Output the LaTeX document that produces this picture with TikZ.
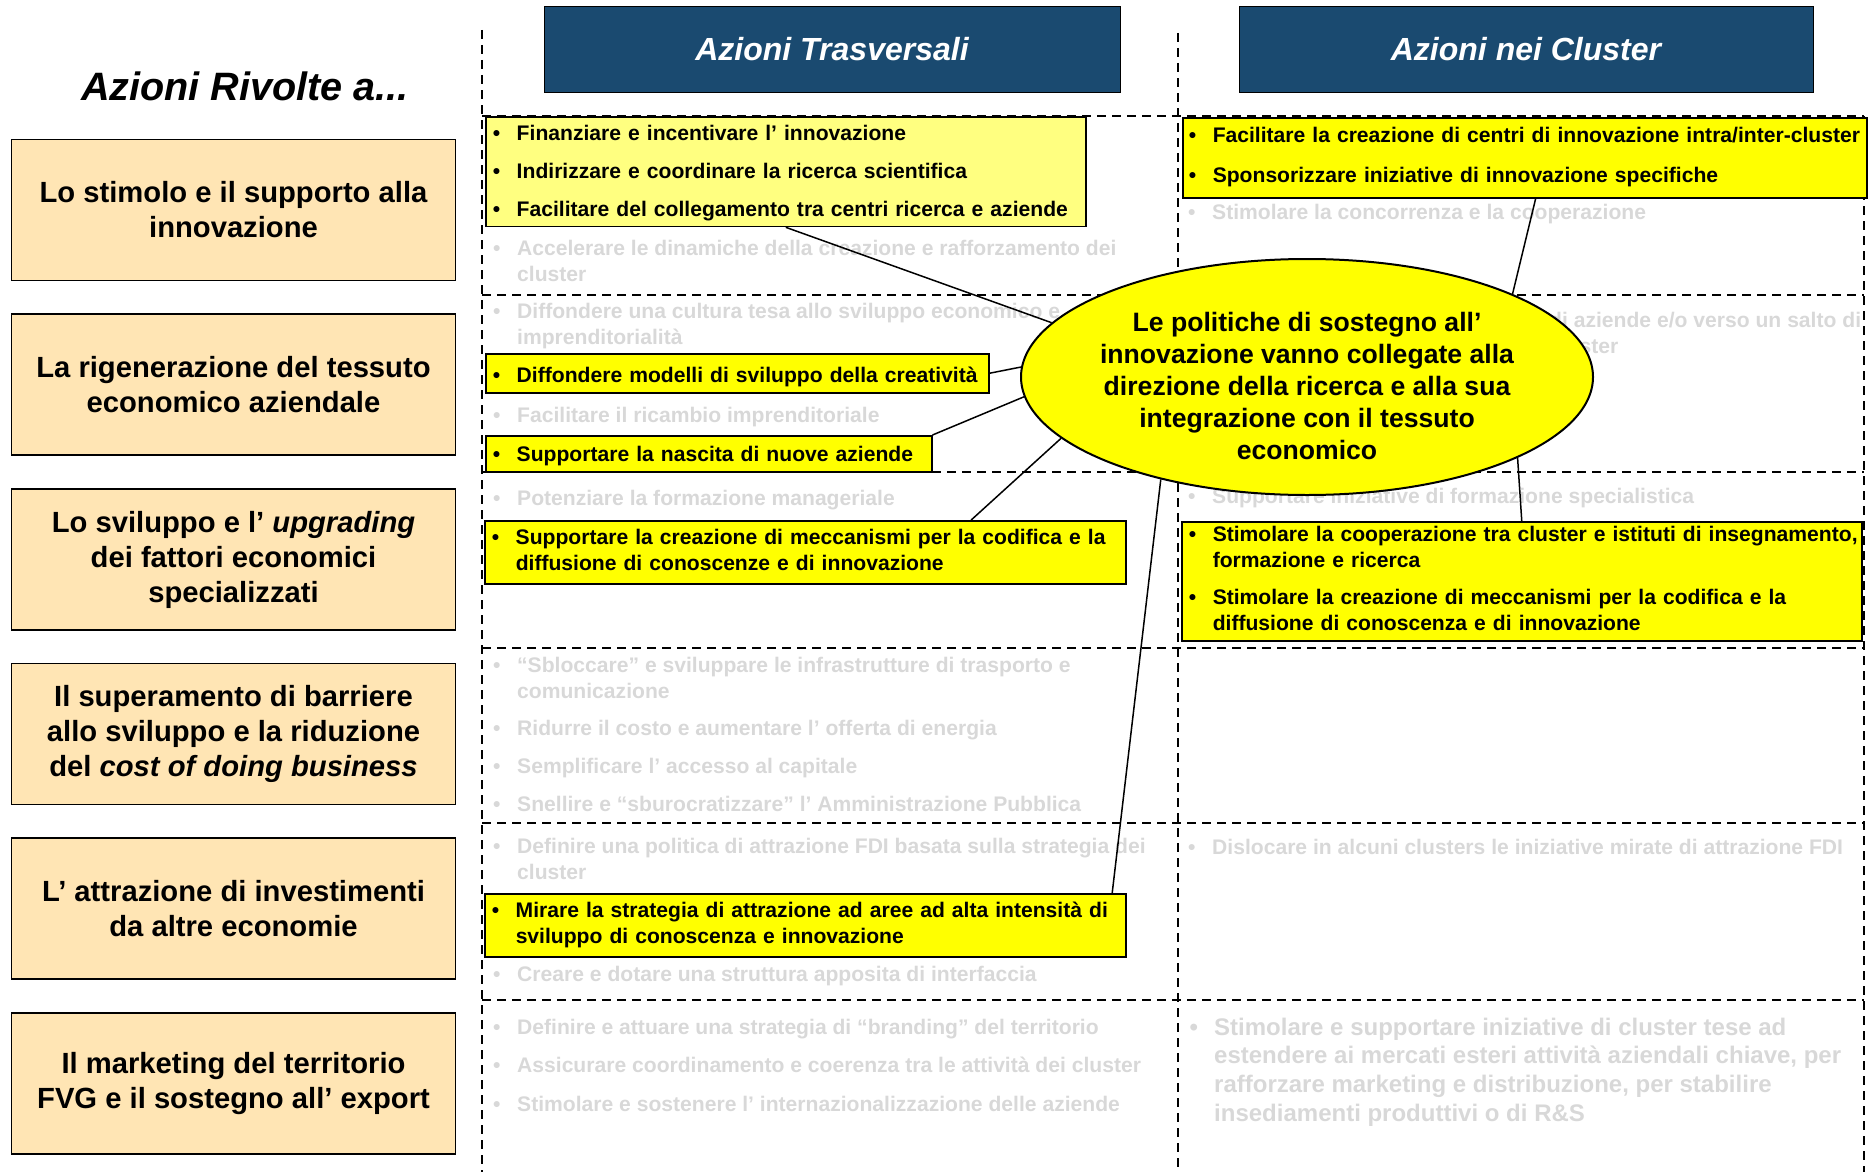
\documentclass[tikz,border=0pt]{standalone}
\usepackage{fontspec}
\setmainfont{Liberation Sans}
\usetikzlibrary{shapes.geometric}
\definecolor{pesca}{RGB}{255,229,180}
\definecolor{blu}{RGB}{26,74,112}
\definecolor{giallo}{RGB}{255,255,0}
\definecolor{giallino}{RGB}{255,255,128}
\definecolor{grigio}{RGB}{216,216,216}
\newlength\bulw
\setlength\bulw{24pt}
\newcommand\punto[1]{\makebox[\bulw][l]{•}\begin{tabular}[t]{@{}l@{}}#1\end{tabular}}
\begin{document}
\begin{tikzpicture}[x=1pt,y=-1pt,
	tema/.style={draw=black,line width=1.5pt,fill=pesca,minimum width=444pt,minimum height=141pt,inner sep=0pt,align=center,font=\fontsize{29.2}{35}\selectfont\bfseries},
	testata/.style={draw=black,line width=1pt,fill=blu,text=white,minimum width=576pt,minimum height=85pt,font=\fontsize{32}{38}\selectfont\bfseries\itshape},
	voce/.style={anchor=base west,inner sep=0pt,text=grigio,font=\fontsize{21.1}{26}\selectfont\bfseries},
	riquadro/.style={draw=black,line width=1.5pt,fill=giallo,anchor=north west,align=left,inner xsep=7pt,inner ysep=2pt,font=\fontsize{21.1}{26}\selectfont\bfseries},
	griglia/.style={line width=1.5pt,dash pattern=on 9pt off 6pt},
	nucleo/.style={ellipse,draw=black,line width=2pt,fill=giallo,minimum width=572pt,minimum height=236pt,inner sep=0pt},
	legame/.style={line width=1.5pt}]
	\useasboundingbox (0,0) rectangle (1868,1172);
	\draw[griglia] (482,30) -- (482,1172);
	\draw[griglia] (1178,33) -- (1178,1172);
	\draw[griglia] (1864,116) -- (1864,1172);
	\foreach \y in {116,295,472,648,823,1000}
		\draw[griglia] (482,\y) -- (1864,\y);
	\node[font=\fontsize{39.6}{46}\selectfont\bfseries\itshape] (titolo) at (245,86) {Azioni Rivolte a...};
	\node[testata] (trasv) at (832,49.5) {Azioni Trasversali};
	\node[testata,minimum width=574pt] (clust) at (1526,49.5) {Azioni nei Cluster};
	\node[tema] (a1) at (233.5,210) {Lo stimolo e il supporto alla\\innovazione};
	\node[tema] (a2) at (233.5,384.5) {La rigenerazione del tessuto\\economico aziendale};
	\node[tema] (a3) at (233.5,559.5) {Lo sviluppo e l’ \textit{upgrading}\\dei fattori economici\\specializzati};
	\node[tema] (a4) at (233.5,734) {Il superamento di barriere\\allo sviluppo e la riduzione\\del \textit{cost of doing business}};
	\node[tema] (a5) at (233.5,908.5) {L’ attrazione di investimenti\\da altre economie};
	\node[tema] (a6) at (233.5,1083.25) {Il marketing del territorio\\FVG e il sostegno all’ export};
	\node[voce] (g1) at (493,255) {\punto{Accelerare le dinamiche della creazione e rafforzamento dei\\cluster}};
	\node[voce] (g2) at (493,318) {\punto{Diffondere una cultura tesa allo sviluppo economico e\\imprenditorialità}};
	\node[voce] (g3) at (493,422) {\punto{Facilitare il ricambio imprenditoriale}};
	\node[voce] (g4) at (493,505) {\punto{Potenziare la formazione manageriale}};
	\node[voce] (g5) at (493,672) {\punto{“Sbloccare” e sviluppare le infrastrutture di trasporto e\\comunicazione}};
	\node[voce] (g6) at (493,735) {\punto{Ridurre il costo e aumentare l’ offerta di energia}};
	\node[voce] (g7) at (493,773) {\punto{Semplificare l’  accesso al capitale}};
	\node[voce] (g8) at (493,811) {\punto{Snellire e “sburocratizzare” l’ Amministrazione Pubblica}};
	\node[voce] (g9) at (493,853) {\punto{Definire una politica di attrazione FDI basata sulla strategia dei\\cluster}};
	\node[voce] (g10) at (493,981) {\punto{Creare e dotare una struttura apposita di interfaccia}};
	\node[voce] (g11) at (493,1034) {\punto{Definire e attuare una strategia di “branding” del territorio}};
	\node[voce] (g12) at (493,1072) {\punto{Assicurare coordinamento e coerenza tra le attività dei cluster}};
	\node[voce] (g13) at (493,1111) {\punto{Stimolare e sostenere l’ internazionalizzazione delle aziende}};
	\node[voce] (h1) at (1188,219) {\punto{Stimolare la concorrenza e la cooperazione}};
	\node[voce] (h2) at (1549,327) {\begin{tabular}[t]{@{}l@{}}di aziende e/o verso un salto di\\cluster\end{tabular}};
	\node[voce] (h3) at (1188,503) {\punto{Supportare iniziative di formazione specialistica}};
	\node[voce] (h4) at (1188,854) {\punto{Dislocare in alcuni clusters le iniziative mirate di attrazione FDI}};
	\node[voce,font=\fontsize{24}{28.8}\selectfont\bfseries] (h5) at (1189.5,1035) {\makebox[24.5pt][l]{•}\begin{tabular}[t]{@{}l@{}}Stimolare e supportare iniziative di cluster tese ad\\estendere ai mercati esteri attività aziendali chiave, per\\rafforzare marketing e distribuzione, per stabilire\\insediamenti produttivi o di R\&S\end{tabular}};
	\node[riquadro,fill=giallino,text width=586pt,minimum height=106pt] (T1) at (485,116) {\rule{0pt}{22pt}\punto{Finanziare e incentivare l’ innovazione}\\[12pt]\punto{Indirizzare e coordinare la ricerca scientifica}\\[12pt]\punto{Facilitare del collegamento tra centri ricerca e aziende}};
	\node[riquadro,text width=489pt,minimum height=39pt] (T2) at (485,353) {\rule{0pt}{27pt}\punto{Diffondere modelli di sviluppo della creatività}};
	\node[riquadro,text width=432pt,minimum height=36pt] (T3) at (485,435) {\rule{0pt}{24pt}\punto{Supportare la nascita di nuove aziende}};
	\node[riquadro,text width=627pt,minimum height=63pt] (T4) at (484,520) {\punto{Supportare la creazione di meccanismi per la codifica e la\\diffusione di conoscenze e di innovazione}};
	\node[riquadro,text width=627pt,minimum height=63pt] (T5) at (484,893) {\punto{Mirare la strategia di attrazione ad aree ad alta intensità di\\sviluppo di conoscenza e innovazione}};
	\node[riquadro,inner xsep=6pt,text width=672pt,minimum height=80pt] (C1) at (1182,117) {\punto{Facilitare la creazione di centri di innovazione intra/inter-cluster}\\[14pt]\punto{Sponsorizzare iniziative di innovazione specifiche}};
	\node[riquadro,text width=666pt,minimum height=116pt] (C2) at (1181,521) {\punto{Stimolare la cooperazione tra cluster e istituti di insegnamento,\\formazione e ricerca}\\[10pt]\punto{Stimolare la creazione di meccanismi per la codifica e la\\diffusione di conoscenza e di innovazione}};
	\node[nucleo] (pol) at (1307,377) {};
	\node[align=center,font=\fontsize{26.6}{32}\selectfont\bfseries] (poltesto) at (1307,386) {Le politiche di sostegno all’\\innovazione vanno collegate alla\\direzione della ricerca e alla sua\\integrazione con il tessuto\\economico};
	\draw[legame] (T1.south) -- (pol.168);
	\draw[legame] (T2.east) -- (pol.178);
	\draw[legame] (T3.north east) -- (pol.184);
	\draw[legame] (T4.11) -- (pol.194);
	\draw[legame] (T5.6) -- (pol.215);
	\draw[legame] (C1.285) -- (pol.22);
	\draw[legame] (C2.north) -- (pol.339);
\end{tikzpicture}
\end{document}
